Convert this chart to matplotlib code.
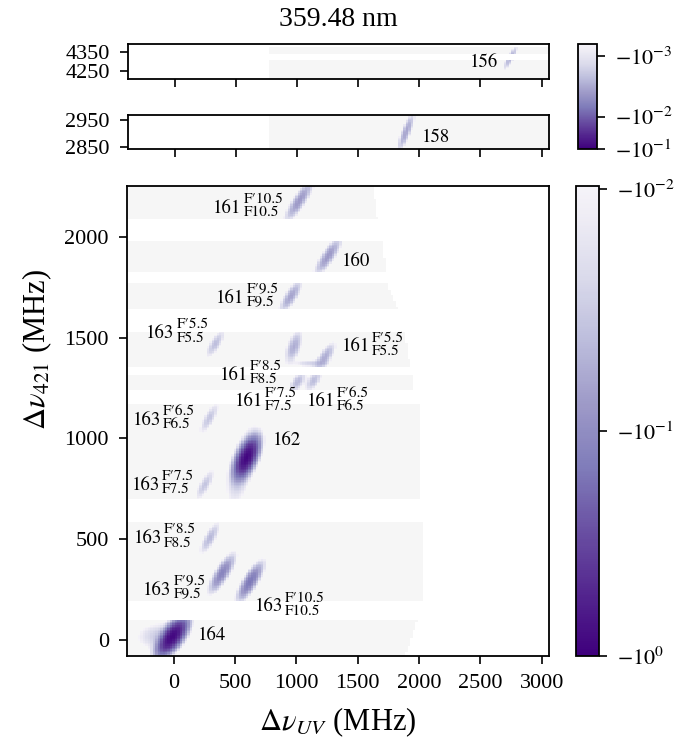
import numpy as np
import matplotlib
matplotlib.use("Agg")
import matplotlib.pyplot as plt
from matplotlib import colors

plt.rcParams['font.family'] = ['Liberation Serif', 'DejaVu Serif']
plt.rcParams['mathtext.fontset'] = 'stix'

# scanned strips of the main panel (MHz): y range and right edge at top / bottom
strip_lo = [2094, 1824, 1639, 1357, 1241, 699, 194, -90]
strip_hi = [2260, 1978, 1771, 1528, 1316, 1167, 582, 96]
strip_xr_top = [1625, 1700, 1740, 1887, 1953, 2010, 2032, 1983]
strip_xr_bot = [1660, 1740, 1830, 1928, 1953, 2010, 2032, 1887]

# scanned strips of the two upper panels (start at x = upper_x0)
upper_lo = [4340, 4150, 2800]
upper_hi = [4372, 4309, 3000]
upper_x0 = [770, 770, 780]

# resonances in the main panel: centre, depth, width across, width along, tilt dx/dy
peak_x = [1025, 1260, 955, 340, 980, 1235, 1120, 1010, 1140, 290, 596, 560, 255, 295, 395, 625, -10, -120]
peak_y = [2180, 1905, 1705, 1470, 1455, 1405, 1372, 1280, 1285, 1100, 905, 860, 770, 505, 330, 290, 15, 20]
peak_amp = [0.08, 0.08, 0.065, 0.04, 0.055, 0.055, 0.025, 0.045, 0.04, 0.035, 0.85, 0.04, 0.035, 0.045, 0.12, 0.15, 0.85, 0.03]
peak_sx = [33, 33, 31, 30, 33, 33, 90, 32, 32, 29, 40, 55, 29, 29, 34, 34, 45, 110]
peak_sy = [55, 50, 45, 40, 45, 40, 12, 30, 30, 45, 48, 110, 45, 45, 50, 50, 45, 40]
peak_k = [1.0, 1.0, 0.9, 0.9, 0.5, 0.9, 0.0, 0.8, 0.8, 0.8, 0.6, 0.4, 0.8, 0.8, 0.9, 0.9, 0.9, 0.3]

# resonances in the upper panels
up_peak_x = [2745, 1893]
up_peak_y = [4320, 2905]
up_peak_amp = [0.0025, 0.003]
up_peak_sx = [20, 24]
up_peak_sy = [40, 45]
up_peak_k = [0.85, 0.8]

# hyperfine labels: number, upper F', lower F, junction x, baseline y
hf_num = ['161', '161', '163', '161', '161', '161', '161', '163', '163', '163', '163', '163']
hf_up = ["F'10.5", "F'9.5", "F'5.5", "F'5.5", "F'8.5", "F'7.5", "F'6.5", "F'6.5", "F'7.5", "F'8.5", "F'9.5", "F'10.5"]
hf_lo = ["F10.5", "F9.5", "F5.5", "F5.5", "F8.5", "F7.5", "F6.5", "F6.5", "F7.5", "F8.5", "F9.5", "F10.5"]
hf_x = [553, 580, 8, 1601, 607, 730, 1315, -101, -109, -93, -19, 893]
hf_y = [2119, 1672, 1498, 1432, 1291, 1159, 1159, 1067, 745, 480, 223, 141]

# plain isotope labels
iso_text = ['160', '162', '164']
iso_x = [1370, 811, 199]
iso_y = [1854, 968, 0]

x_ticks = [0, 500, 1000, 1500, 2000, 2500, 3000]
main_yticks = [0, 500, 1000, 1500, 2000]


def model(X, Y, px, py, pa, psx, psy, pk):
    Z = np.zeros_like(X)
    for x0, y0, a, sx, sy, k in zip(px, py, pa, psx, psy, pk):
        u = X - x0 - k * (Y - y0)
        v = Y - y0
        Z += a * np.exp(-0.5 * (u / sx) ** 2 - 0.5 * (v / sy) ** 2)
    return -(Z + 1e-9)


def main_fwd(v):
    L = np.log10(np.clip(-np.asarray(v, float), 1e-30, None))
    return -0.46 * L + 0.018 * L ** 2


def main_inv(f):
    f = np.asarray(f, float)
    L = (0.46 - np.sqrt(np.maximum(0.46 ** 2 + 0.072 * f, 0))) / 0.036
    return -10.0 ** L


def up_fwd(v):
    u = -np.log10(np.clip(-np.asarray(v, float), 1e-30, None)) - 1
    return 0.1755 * u + 0.1325 * u ** 2


def up_inv(f):
    f = np.asarray(f, float)
    u = (-0.1755 + np.sqrt(np.maximum(0.1755 ** 2 + 0.53 * f, 0))) / 0.265
    return -10.0 ** (-u - 1)


base = plt.get_cmap('Purples_r')
cmap = colors.ListedColormap(base(np.linspace(0, 0.93, 256)))
cmap.set_over('#f6f6f6')
cmap.set_bad((1, 1, 1, 0))

main_norm = colors.FuncNorm((main_fwd, main_inv), vmin=-1, vmax=-0.0097)
up_norm = colors.FuncNorm((up_fwd, up_inv), vmin=-0.1, vmax=-6.9e-4)

W, H = 683, 744
fig = plt.figure(figsize=(W / 100, H / 100), dpi=100)


def rect(l, t, r, b):
    return [l / W, 1 - b / H, (r - l) / W, (b - t) / H]


ax_top = fig.add_axes(rect(128, 44, 549, 79))
ax_mid = fig.add_axes(rect(128, 115, 549, 149))
ax = fig.add_axes(rect(127, 186, 549, 656))
cax_up = fig.add_axes(rect(578, 44, 597, 149))
cax = fig.add_axes(rect(576, 186, 599, 656))

xs = np.arange(-400, 3100, 20.0)

# main panel
ys = np.arange(-90, 2262, 8.0)
X, Y = np.meshgrid(xs, ys)
Z = model(X, Y, peak_x, peak_y, peak_amp, peak_sx, peak_sy, peak_k)
inside = np.zeros_like(X, dtype=bool)
for lo, hi, xt, xb in zip(strip_lo, strip_hi, strip_xr_top, strip_xr_bot):
    xr = xb + (xt - xb) * (Y - lo) / (hi - lo)
    inside |= (Y >= lo) & (Y <= hi) & (X <= xr)
mesh = ax.pcolormesh(xs, ys, np.where(inside, Z, np.nan), shading='nearest',
                     cmap=cmap, norm=main_norm)

# upper panels
for a, ylim in [(ax_top, (4211, 4391)), (ax_mid, (2841, 2969))]:
    yu = np.arange(ylim[0] - 10, ylim[1] + 10, 5.0)
    Xu, Yu = np.meshgrid(xs, yu)
    Zu = model(Xu, Yu, up_peak_x, up_peak_y, up_peak_amp, up_peak_sx, up_peak_sy, up_peak_k)
    ins = np.zeros_like(Xu, dtype=bool)
    for lo, hi, x0 in zip(upper_lo, upper_hi, upper_x0):
        ins |= (Yu >= lo) & (Yu <= hi) & (Xu >= x0)
    mesh_up = a.pcolormesh(xs, yu, np.where(ins, Zu, np.nan), shading='nearest',
                           cmap=cmap, norm=up_norm)
    a.set_ylim(*ylim)

ax_top.set_yticks([4250, 4350])
ax_mid.set_yticks([2850, 2950])
ax.set_yticks(main_yticks)
ax.set_ylim(-80, 2253)

for a in (ax_top, ax_mid, ax):
    a.set_xlim(-380, 3060)
    a.set_xticks(x_ticks)
    a.tick_params(direction='out', length=6, width=1.2, pad=7, labelsize=16)
    for s in a.spines.values():
        s.set_linewidth(1.3)
ax_top.tick_params(labelbottom=False)
ax_mid.tick_params(labelbottom=False)

# labels
lab_font = ['STIXGeneral', 'Liberation Serif', 'DejaVu Serif']
for num, up, lo, x, y in zip(hf_num, hf_up, hf_lo, hf_x, hf_y):
    ax.text(x, y, num, ha='right', va='baseline', fontsize=13.5, family=lab_font)
    ax.annotate(up.replace("'", "\u2032"), (x, y), xytext=(1.5, 7), textcoords='offset points',
                ha='left', va='baseline', fontsize=11, family=lab_font)
    ax.annotate(lo, (x, y), xytext=(1.5, -2.5), textcoords='offset points',
                ha='left', va='baseline', fontsize=11, family=lab_font)
for t, x, y in zip(iso_text, iso_x, iso_y):
    ax.text(x, y, t, ha='left', va='baseline', fontsize=13.5, family=lab_font)
ax_top.text(2645, 4275, '156', ha='right', va='baseline', fontsize=13.5, family=lab_font)
ax_mid.text(2025, 2869, '158', ha='left', va='baseline', fontsize=13.5, family=lab_font)

# colorbars
cb = fig.colorbar(mesh, cax=cax)
cb.set_ticks([-1, -0.1, -0.01])
cb.set_ticklabels([r'$-10^{0}$', r'$-10^{-1}$', r'$-10^{-2}$'])
cb_up = fig.colorbar(mesh_up, cax=cax_up)
cb_up.set_ticks([-0.1, -0.01, -0.001])
cb_up.set_ticklabels([r'$-10^{-1}$', r'$-10^{-2}$', r'$-10^{-3}$'])
for c in (cb, cb_up):
    c.ax.tick_params(direction='out', length=6, width=1.2, pad=7, labelsize=16)
    c.ax.minorticks_off()
    c.outline.set_linewidth(1.3)

fig.text(338 / W, 1 - 20 / H, '359.48 nm', ha='center', va='center', fontsize=20)
fig.text(37 / W, 1 - 350 / H, r'$\Delta\nu_{421}$ (MHz)', rotation=90,
         ha='center', va='center', fontsize=22)
fig.text(338 / W, 1 - 722 / H, r'$\Delta\nu_{UV}$ (MHz)', ha='center', va='center', fontsize=22)

fig.savefig('out.png', dpi=100)
